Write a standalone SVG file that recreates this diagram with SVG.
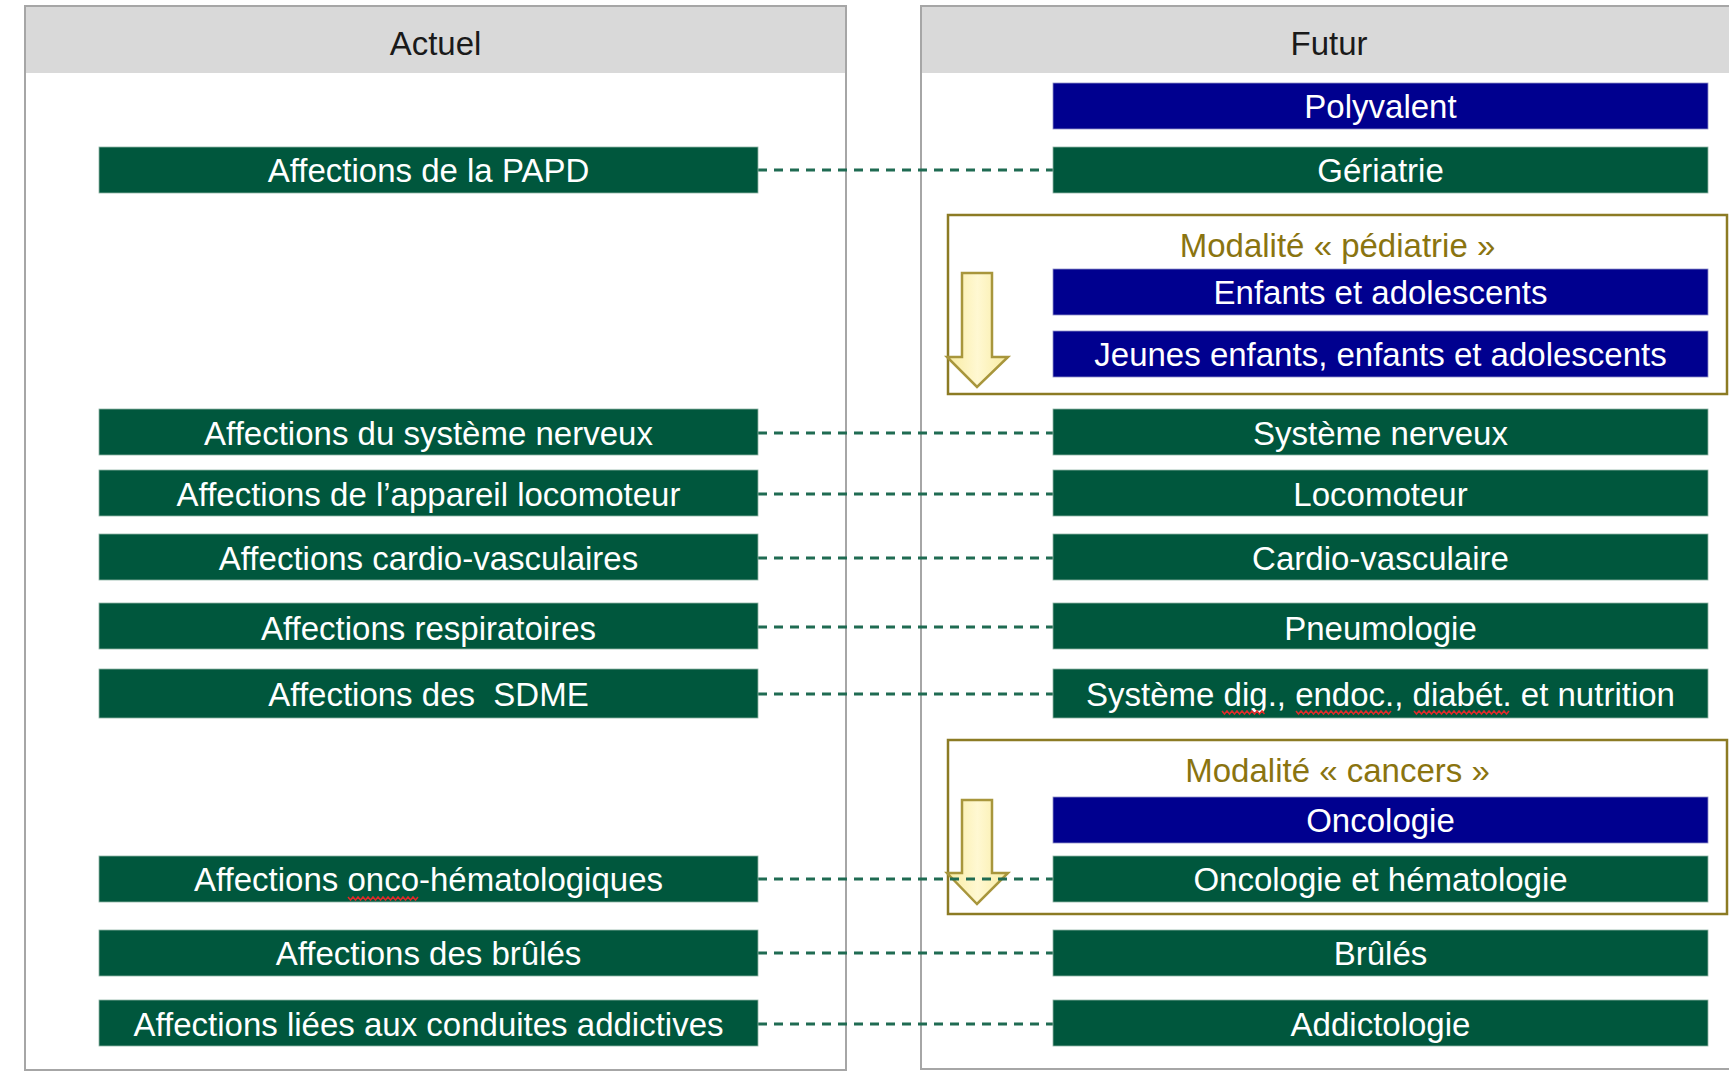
<svg xmlns="http://www.w3.org/2000/svg" width="1729" height="1076" viewBox="0 0 1729 1076">
<style>
.panel{fill:#ffffff;stroke:#a6a6a6;stroke-width:2}
.hdr{fill:#d9d9d9}
.htxt{font-family:"Liberation Sans",Arial,sans-serif;font-size:33px;fill:#1a1a1a;text-anchor:middle}
.g{fill:#00573d;stroke:#8fb5a5;stroke-width:0.8}
.b{fill:#00008f;stroke:#8f8fc8;stroke-width:0.8}
.t{font-family:"Liberation Sans",Arial,sans-serif;font-size:33px;fill:#ffffff;text-anchor:middle}
.mod{fill:none;stroke:#8c7b24;stroke-width:2.5}
.mtxt{font-family:"Liberation Sans",Arial,sans-serif;font-size:33px;fill:#8a7410;text-anchor:middle}
.arr{fill:url(#ag);stroke:#a8963c;stroke-width:2.5;stroke-linejoin:miter}
.con{stroke:#1f6b52;stroke-width:2.8;stroke-dasharray:9 7;fill:none}
.sq{stroke:#e02a2a;stroke-width:1.5;fill:none}
</style>
<defs>
<linearGradient id="ag" x1="0" y1="0" x2="1" y2="0">
<stop offset="0" stop-color="#f8eba0"/>
<stop offset="0.5" stop-color="#fff8d2"/>
<stop offset="1" stop-color="#f8eba0"/>
</linearGradient>
</defs>
<rect width="1729" height="1076" fill="#ffffff"/>
<g id="panel-actuel">
<rect class="panel" x="25" y="6" width="821" height="1064"/>
<rect class="hdr" x="26" y="7" width="819" height="66"/>
<text class="htxt" x="435.5" y="55">Actuel</text>
</g>
<g id="panel-futur">
<rect class="panel" x="921" y="6" width="830" height="1063"/>
<rect class="hdr" x="922" y="7" width="830" height="66"/>
<text class="htxt" x="1329" y="55">Futur</text>
</g>
<g id="modalite-pediatrie">
<rect class="mod" x="948" y="215" width="779" height="179"/>
<text class="mtxt" x="1337.5" y="257">Modalité « pédiatrie »</text>
<path class="arr" d="M962,273 H992 V357 H1008 L977,387 L947,357 H962 Z"/>
</g>
<g id="modalite-cancers">
<rect class="mod" x="948" y="740" width="779" height="174"/>
<text class="mtxt" x="1337.5" y="782">Modalité « cancers »</text>
<path class="arr" d="M962,800 H992 V873 H1008 L977,904 L947,873 H962 Z"/>
</g>
<g id="connectors">
<line class="con" x1="758" y1="170" x2="1053" y2="170"/>
<line class="con" x1="758" y1="433" x2="1053" y2="433"/>
<line class="con" x1="758" y1="494" x2="1053" y2="494"/>
<line class="con" x1="758" y1="558" x2="1053" y2="558"/>
<line class="con" x1="758" y1="627" x2="1053" y2="627"/>
<line class="con" x1="758" y1="694" x2="1053" y2="694"/>
<line class="con" x1="758" y1="879" x2="1053" y2="879"/>
<line class="con" x1="758" y1="953" x2="1053" y2="953"/>
<line class="con" x1="758" y1="1024" x2="1053" y2="1024"/>
</g>
<g id="a-papd"><rect class="g" x="99" y="147" width="659" height="46"/><text class="t" x="428.5" y="182">Affections de la PAPD</text></g>
<g id="a-sn"><rect class="g" x="99" y="409" width="659" height="46"/><text class="t" x="428.5" y="445">Affections du système nerveux</text></g>
<g id="a-loco"><rect class="g" x="99" y="470" width="659" height="46"/><text class="t" x="428.5" y="506">Affections de l’appareil locomoteur</text></g>
<g id="a-cardio"><rect class="g" x="99" y="534" width="659" height="46"/><text class="t" x="428.5" y="570">Affections cardio-vasculaires</text></g>
<g id="a-resp"><rect class="g" x="99" y="603" width="659" height="46"/><text class="t" x="428.5" y="640">Affections respiratoires</text></g>
<g id="a-sdme"><rect class="g" x="99" y="669" width="659" height="49"/><text class="t" x="428.5" y="706" xml:space="preserve">Affections des  SDME</text></g>
<g id="a-onco"><rect class="g" x="99" y="856" width="659" height="46"/><text class="t" x="428.5" y="891">Affections onco-hématologiques</text><path class="sq" d="M348,897 l2.5,3 l2.5,-3 l2.5,3 l2.5,-3 l2.5,3 l2.5,-3 l2.5,3 l2.5,-3 l2.5,3 l2.5,-3 l2.5,3 l2.5,-3 l2.5,3 l2.5,-3 l2.5,3 l2.5,-3 l2.5,3 l2.5,-3 l2.5,3 l2.5,-3 l2.5,3 l2.5,-3 l2.5,3 l2.5,-3 l2.5,3 l2.5,-3 l2.5,3 l2.5,-3"/></g>
<g id="a-brules"><rect class="g" x="99" y="930" width="659" height="46"/><text class="t" x="428.5" y="965">Affections des brûlés</text></g>
<g id="a-addict"><rect class="g" x="99" y="1000" width="659" height="46"/><text class="t" x="428.5" y="1036">Affections liées aux conduites addictives</text></g>
<g id="f-polyvalent"><rect class="b" x="1053" y="83" width="655" height="46"/><text class="t" x="1380.5" y="118">Polyvalent</text></g>
<g id="f-geriatrie"><rect class="g" x="1053" y="147" width="655" height="46"/><text class="t" x="1380.5" y="182">Gériatrie</text></g>
<g id="f-enfants"><rect class="b" x="1053" y="269" width="655" height="46"/><text class="t" x="1380.5" y="304">Enfants et adolescents</text></g>
<g id="f-jeunes"><rect class="b" x="1053" y="331" width="655" height="46"/><text class="t" x="1380.5" y="366">Jeunes enfants, enfants et adolescents</text></g>
<g id="f-sn"><rect class="g" x="1053" y="409" width="655" height="46"/><text class="t" x="1380.5" y="445">Système nerveux</text></g>
<g id="f-loco"><rect class="g" x="1053" y="470" width="655" height="46"/><text class="t" x="1380.5" y="506">Locomoteur</text></g>
<g id="f-cardio"><rect class="g" x="1053" y="534" width="655" height="46"/><text class="t" x="1380.5" y="570">Cardio-vasculaire</text></g>
<g id="f-pneumo"><rect class="g" x="1053" y="603" width="655" height="46"/><text class="t" x="1380.5" y="640">Pneumologie</text></g>
<g id="f-sdme"><rect class="g" x="1053" y="669" width="655" height="49"/><text class="t" x="1380.5" y="706">Système dig., endoc., diabét. et nutrition</text><path class="sq" d="M1222,711 l2.5,3 l2.5,-3 l2.5,3 l2.5,-3 l2.5,3 l2.5,-3 l2.5,3 l2.5,-3 l2.5,3 l2.5,-3 l2.5,3 l2.5,-3 l2.5,3 l2.5,-3 l2.5,3 l2.5,-3 l2.5,3 M1296,711 l2.5,3 l2.5,-3 l2.5,3 l2.5,-3 l2.5,3 l2.5,-3 l2.5,3 l2.5,-3 l2.5,3 l2.5,-3 l2.5,3 l2.5,-3 l2.5,3 l2.5,-3 l2.5,3 l2.5,-3 l2.5,3 l2.5,-3 l2.5,3 l2.5,-3 l2.5,3 l2.5,-3 l2.5,3 l2.5,-3 l2.5,3 l2.5,-3 l2.5,3 l2.5,-3 l2.5,3 l2.5,-3 l2.5,3 l2.5,-3 l2.5,3 l2.5,-3 l2.5,3 l2.5,-3 l2.5,3 l2.5,-3 M1414,711 l2.5,3 l2.5,-3 l2.5,3 l2.5,-3 l2.5,3 l2.5,-3 l2.5,3 l2.5,-3 l2.5,3 l2.5,-3 l2.5,3 l2.5,-3 l2.5,3 l2.5,-3 l2.5,3 l2.5,-3 l2.5,3 l2.5,-3 l2.5,3 l2.5,-3 l2.5,3 l2.5,-3 l2.5,3 l2.5,-3 l2.5,3 l2.5,-3 l2.5,3 l2.5,-3 l2.5,3 l2.5,-3 l2.5,3 l2.5,-3 l2.5,3 l2.5,-3 l2.5,3 l2.5,-3 l2.5,3 l2.5,-3"/></g>
<g id="f-oncologie"><rect class="b" x="1053" y="797" width="655" height="46"/><text class="t" x="1380.5" y="832">Oncologie</text></g>
<g id="f-onco-hemato"><rect class="g" x="1053" y="856" width="655" height="46"/><text class="t" x="1380.5" y="891">Oncologie et hématologie</text></g>
<g id="f-brules"><rect class="g" x="1053" y="930" width="655" height="46"/><text class="t" x="1380.5" y="965">Brûlés</text></g>
<g id="f-addict"><rect class="g" x="1053" y="1000" width="655" height="46"/><text class="t" x="1380.5" y="1036">Addictologie</text></g>
</svg>
